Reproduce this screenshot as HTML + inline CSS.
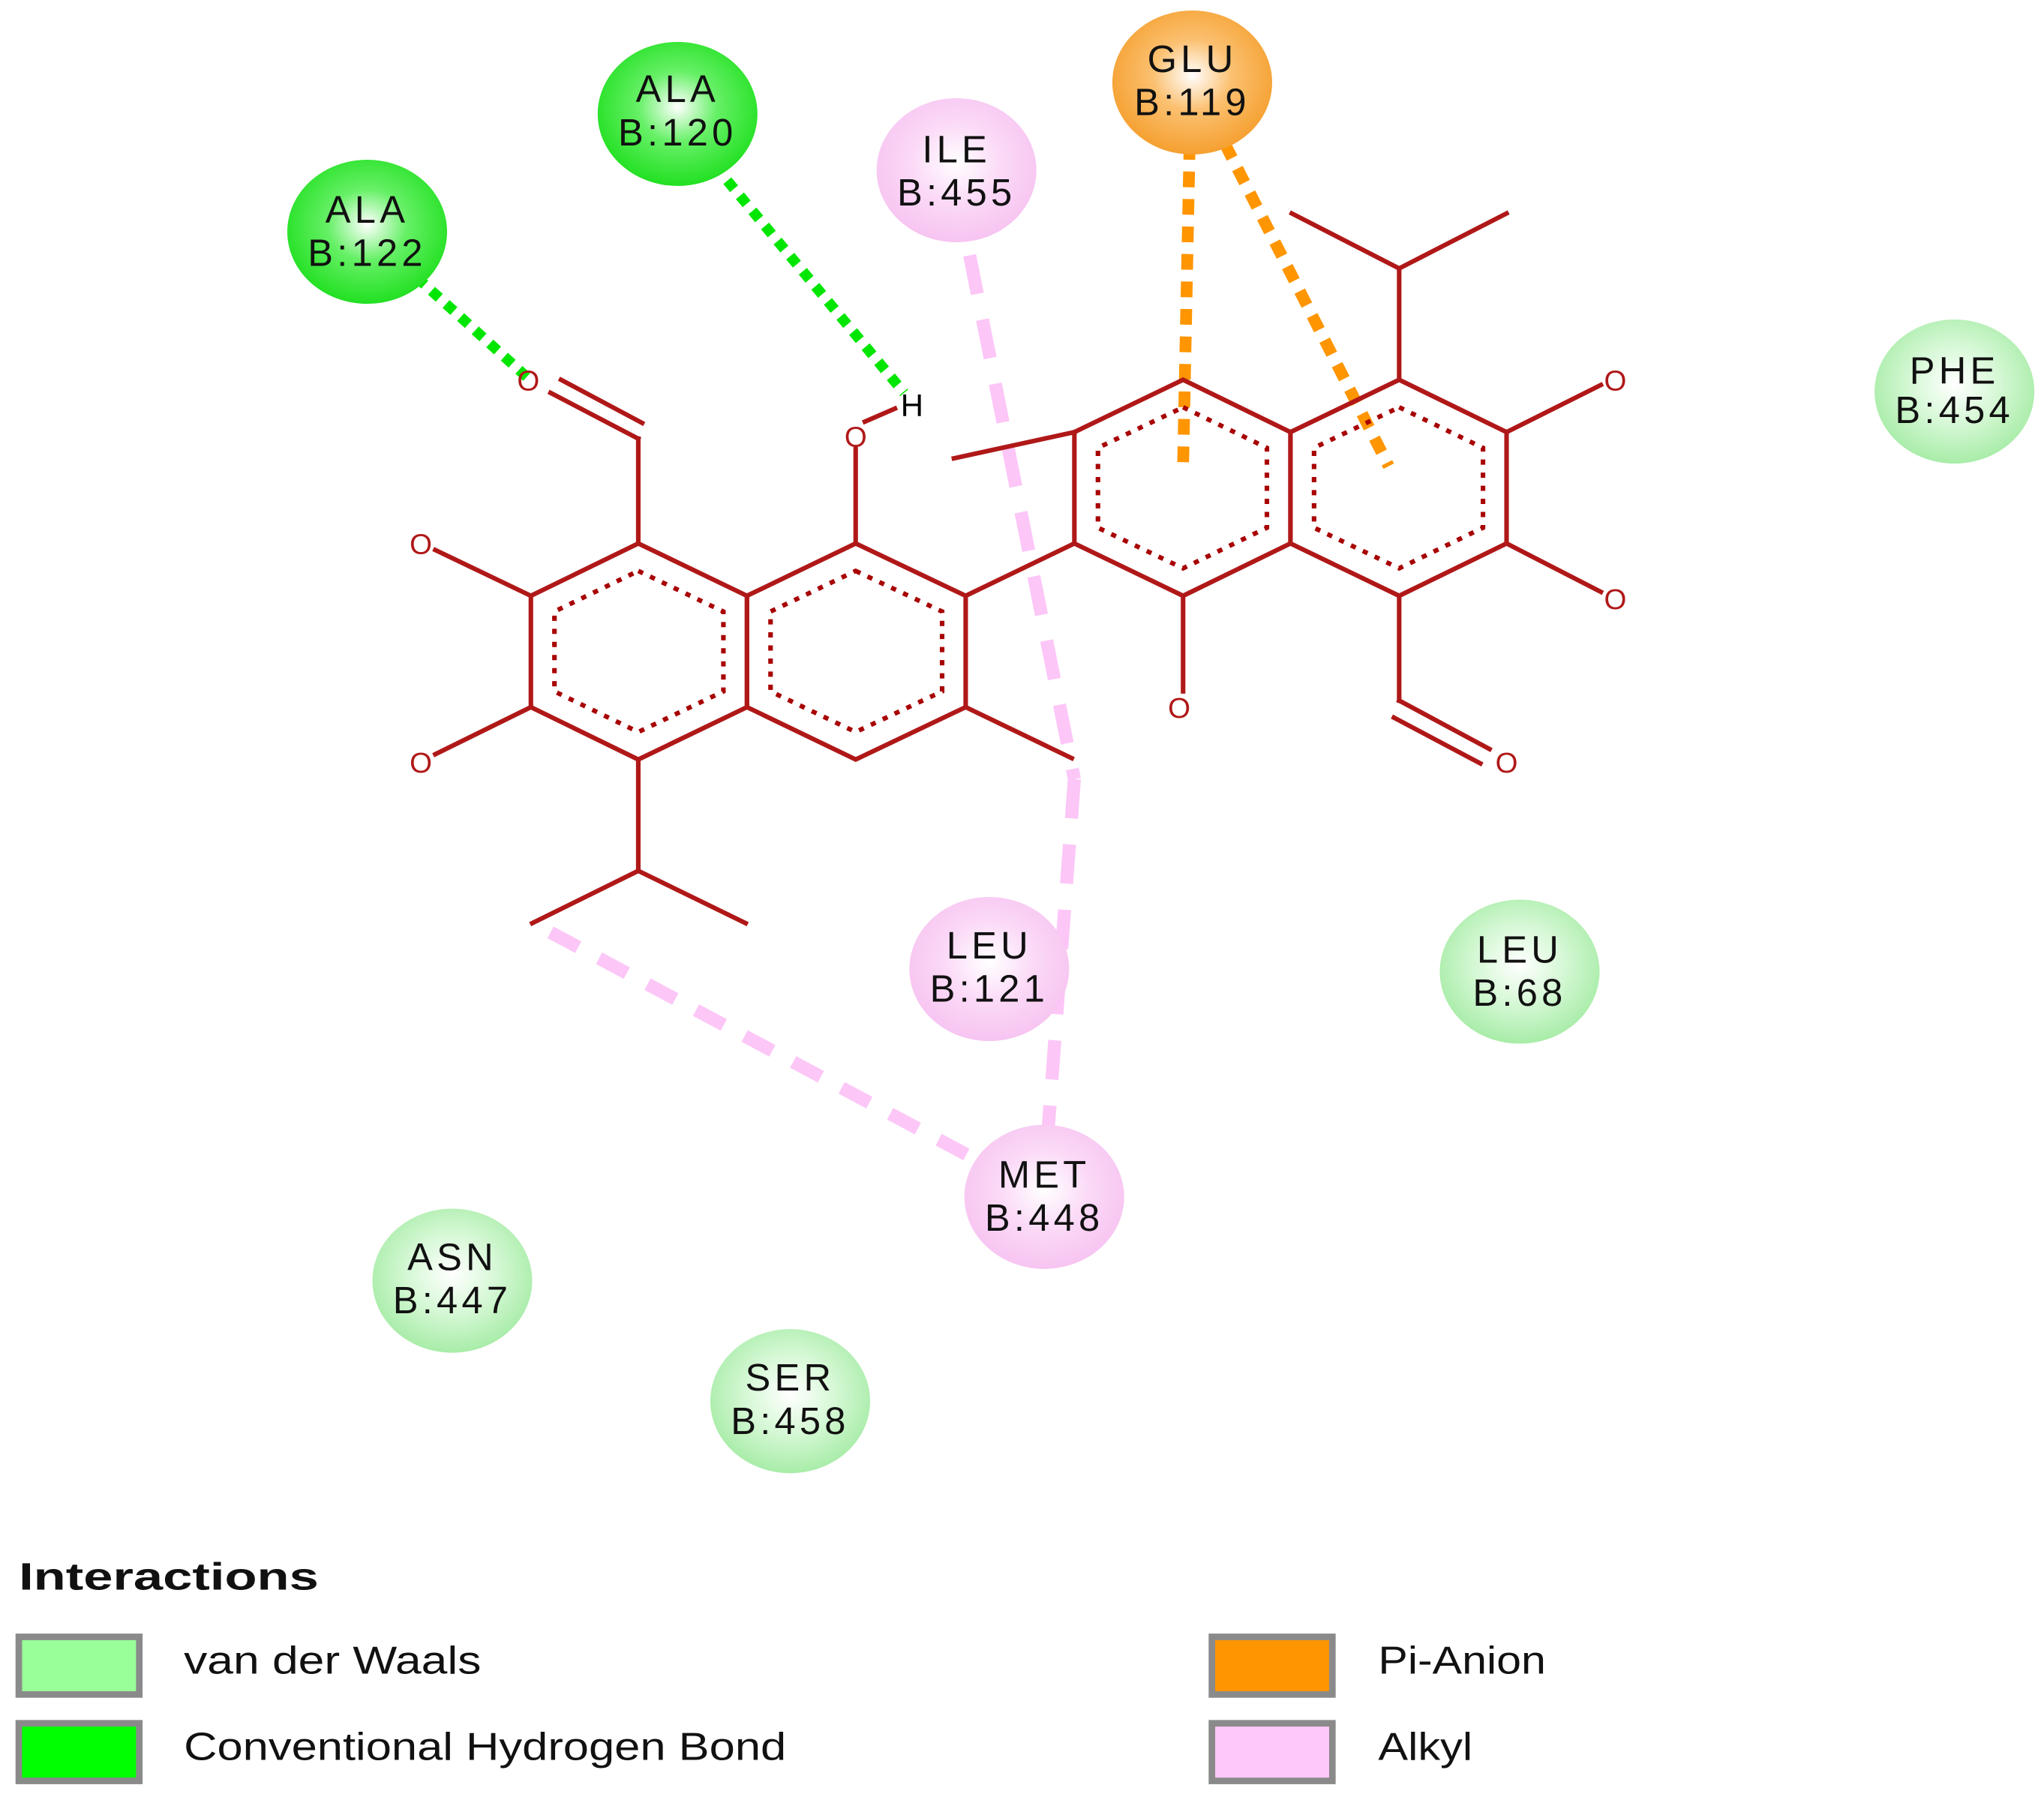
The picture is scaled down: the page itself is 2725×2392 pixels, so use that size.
<!DOCTYPE html>
<html><head><meta charset="utf-8"><style>html,body{margin:0;padding:0;background:#fff;width:2725px;height:2392px;overflow:hidden}svg{display:block}</style></head>
<body>
<svg width="2725" height="2392" viewBox="0 0 1560 1370" xmlns="http://www.w3.org/2000/svg">
<defs>
<radialGradient id="gL" cx="50%" cy="45%" r="55%"><stop offset="0" stop-color="#ffffff"/><stop offset="0.5" stop-color="#d6f8d6"/><stop offset="1" stop-color="#a8eca8"/></radialGradient>
<radialGradient id="gD" cx="50%" cy="45%" r="55%"><stop offset="0" stop-color="#ffffff"/><stop offset="0.45" stop-color="#66f066"/><stop offset="1" stop-color="#22e022"/></radialGradient>
<radialGradient id="gP" cx="50%" cy="45%" r="55%"><stop offset="0" stop-color="#ffffff"/><stop offset="0.5" stop-color="#fbdaf7"/><stop offset="1" stop-color="#f7c4f1"/></radialGradient>
<radialGradient id="gO" cx="50%" cy="45%" r="55%"><stop offset="0" stop-color="#ffffff"/><stop offset="0.45" stop-color="#fbc070"/><stop offset="1" stop-color="#f5a030"/></radialGradient>
</defs>

<g fill="none" stroke-linecap="butt">
<line x1="318" y1="212" x2="402" y2="288" stroke="#00e600" stroke-width="8" stroke-dasharray="8 7"/>
<line x1="555" y1="138" x2="690" y2="300" stroke="#00e600" stroke-width="8" stroke-dasharray="8 7"/>
<line x1="908" y1="110" x2="903" y2="356" stroke="#ff9500" stroke-width="9" stroke-dasharray="12 9"/>
<line x1="935" y1="110" x2="1060" y2="356" stroke="#ff9500" stroke-width="9" stroke-dasharray="12 9"/>
<line x1="740" y1="195" x2="820" y2="595" stroke="#fcc6f7" stroke-width="10" stroke-dasharray="30 20"/>
<line x1="820" y1="595" x2="800" y2="862" stroke="#fcc6f7" stroke-width="10" stroke-dasharray="30 20"/>
<line x1="420" y1="712" x2="742" y2="884" stroke="#fcc6f7" stroke-width="10" stroke-dasharray="24 18"/>
</g>

<g stroke="#b01818" stroke-width="3.5" fill="none" stroke-linecap="square">
<polygon points="487,415 570,455 570,540 487,580 405,540 405,455"/>
<polygon points="570,455 653,415 737,455 737,540 653,580 570,540"/>
<polygon points="820,330 903,290 985,330 985,415 903,455 820,415"/>
<polygon points="985,330 1068,290 1150,330 1150,415 1068,455 985,415"/>
<line x1="487" y1="415" x2="487" y2="335"/>
<line x1="487" y1="335" x2="420" y2="300"/>
<line x1="490" y1="323" x2="428" y2="290"/>
<line x1="653" y1="415" x2="653" y2="343"/>
<line x1="660" y1="322" x2="683" y2="312"/>
<line x1="405" y1="455" x2="332" y2="420"/>
<line x1="405" y1="540" x2="332" y2="576"/>
<line x1="487" y1="580" x2="487" y2="665"/>
<line x1="487" y1="665" x2="406" y2="705"/>
<line x1="487" y1="665" x2="569" y2="705"/>
<line x1="737" y1="540" x2="818" y2="579"/>
<line x1="737" y1="455" x2="820" y2="415"/>
<line x1="820" y1="330" x2="728" y2="350"/>
<line x1="903" y1="455" x2="903" y2="528"/>
<line x1="1068" y1="290" x2="1068" y2="205"/>
<line x1="1068" y1="205" x2="986" y2="163"/>
<line x1="1068" y1="205" x2="1150" y2="163"/>
<line x1="1150" y1="330" x2="1222" y2="294"/>
<line x1="1150" y1="415" x2="1222" y2="452"/>
<line x1="1068" y1="455" x2="1068" y2="535"/>
<line x1="1068" y1="535" x2="1137" y2="572"/>
<line x1="1064" y1="548" x2="1130" y2="583"/>
</g>
<g stroke="#a80000" stroke-width="3.5" fill="none" stroke-dasharray="4 6">
<polygon points="487,436 552,467 552,528 487,559 423,528 423,467"/>
<polygon points="653,436 719,467 719,528 653,559 588,528 588,467"/>
<polygon points="903,311 967,342 967,403 903,434 838,403 838,342"/>
<polygon points="1068,311 1132,342 1132,403 1068,434 1003,403 1003,342"/>
</g>
<g font-family="'Liberation Sans',sans-serif" font-size="22" fill="#b01818" text-anchor="middle">
<text x="403" y="298">O</text>
<text x="653" y="341">O</text>
<text x="321" y="423">O</text>
<text x="321" y="590">O</text>
<text x="900" y="548">O</text>
<text x="1233" y="298">O</text>
<text x="1233" y="465">O</text>
<text x="1150" y="590">O</text>
<text x="696" y="318" fill="#000" font-size="24">H</text>
</g>

<g font-family="'Liberation Sans',sans-serif" font-size="29" fill="#111" text-anchor="middle" letter-spacing="3">
<ellipse cx="280" cy="177" rx="61" ry="55" fill="url(#gD)"/><text x="280" y="170">ALA</text><text x="280" y="203">B:122</text>
<ellipse cx="517" cy="87" rx="61" ry="55" fill="url(#gD)"/><text x="517" y="78">ALA</text><text x="517" y="111">B:120</text>
<ellipse cx="730" cy="130" rx="61" ry="55" fill="url(#gP)"/><text x="730" y="124">ILE</text><text x="730" y="157">B:455</text>
<ellipse cx="910" cy="63" rx="61" ry="55" fill="url(#gO)"/><text x="910" y="55">GLU</text><text x="910" y="88">B:119</text>
<ellipse cx="1492" cy="299" rx="61" ry="55" fill="url(#gL)"/><text x="1492" y="293">PHE</text><text x="1492" y="323">B:454</text>
<ellipse cx="755" cy="740" rx="61" ry="55" fill="url(#gP)"/><text x="755" y="732">LEU</text><text x="755" y="765">B:121</text>
<ellipse cx="1160" cy="742" rx="61" ry="55" fill="url(#gL)"/><text x="1160" y="735">LEU</text><text x="1160" y="768">B:68</text>
<ellipse cx="797" cy="914" rx="61" ry="55" fill="url(#gP)"/><text x="797" y="907">MET</text><text x="797" y="940">B:448</text>
<ellipse cx="345" cy="978" rx="61" ry="55" fill="url(#gL)"/><text x="345" y="970">ASN</text><text x="345" y="1003">B:447</text>
<ellipse cx="603" cy="1070" rx="61" ry="55" fill="url(#gL)"/><text x="603" y="1062">SER</text><text x="603" y="1095">B:458</text>
</g>

<g font-family="'Liberation Sans',sans-serif" font-size="30" fill="#111">
<text x="14" y="1214" font-weight="bold" font-size="29" textLength="229" lengthAdjust="spacingAndGlyphs">Interactions</text>
<rect x="14" y="1250" width="92" height="44" fill="#99ff99" stroke="#8a8a8a" stroke-width="5"/>
<rect x="14" y="1316" width="92" height="44" fill="#00ff00" stroke="#8a8a8a" stroke-width="5"/>
<rect x="925" y="1250" width="92" height="44" fill="#ff9500" stroke="#8a8a8a" stroke-width="5"/>
<rect x="925" y="1316" width="92" height="44" fill="#ffc8fa" stroke="#8a8a8a" stroke-width="5"/>
<text x="140" y="1278" textLength="227" lengthAdjust="spacingAndGlyphs">van der Waals</text>
<text x="140" y="1344" textLength="460" lengthAdjust="spacingAndGlyphs">Conventional Hydrogen Bond</text>
<text x="1052" y="1278" textLength="128" lengthAdjust="spacingAndGlyphs">Pi-Anion</text>
<text x="1052" y="1344" textLength="72" lengthAdjust="spacingAndGlyphs">Alkyl</text>
</g>
</svg>
</body></html>
